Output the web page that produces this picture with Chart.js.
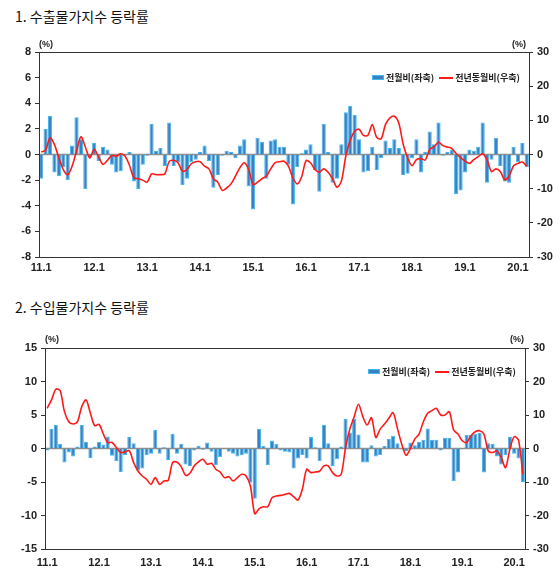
<!DOCTYPE html>
<html>
<head>
<meta charset="utf-8">
<script src="https://cdn.jsdelivr.net/npm/chart.js@4/dist/chart.umd.min.js"></script>
<style>
  body { margin: 0; background: #fff; width: 560px; height: 569px; overflow: hidden; position: relative; font-family: "Noto Sans CJK KR", sans-serif; }
  .title { position: absolute; left: 15px; font-size: 14px; color: #111; white-space: nowrap; }
  .box { position: absolute; left: 0; width: 560px; }
  .pct { position: absolute; font: bold 9px "Liberation Sans", Arial, sans-serif; color: #222; }
  .leg { position: absolute; font: bold 9px "Noto Sans CJK KR", sans-serif; color: #222; white-space: nowrap; display: flex; align-items: center; }
  .leg .bar { display: inline-block; width: 12px; height: 5px; background: #3a80c3; border: 1px solid #40b8ee; box-sizing: border-box; margin-right: 2px; }
  .leg .ln { display: inline-block; width: 14px; height: 2px; background: #ff1a1a; margin: 0 2px 0 5px; }
</style>
</head>
<body>
<div class="title" style="top:6px">1. 수출물가지수 등락률</div>
<div class="box" style="top:0;height:285px"><canvas id="c1"></canvas></div>
<div class="pct" style="left:39px;top:39px">(%)</div>
<div class="pct" style="left:512px;top:39px">(%)</div>
<div class="leg" style="left:372px;top:71px"><span class="bar"></span>전월비(좌축)<span class="ln"></span>전년동월비(우축)</div>

<div class="title" style="top:297px">2. 수입물가지수 등락률</div>
<div class="box" style="top:290px;height:279px"><canvas id="c2"></canvas></div>
<div class="pct" style="left:45px;top:334px">(%)</div>
<div class="pct" style="left:510px;top:334px">(%)</div>
<div class="leg" style="left:368px;top:365px"><span class="bar"></span>전월비(좌축)<span class="ln"></span>전년동월비(우축)</div>

<script>
// months 2011.1 ~ 2020.3
const months = [];
for (let y = 11; y <= 20; y++) {
  for (let m = 1; m <= 12; m++) {
    if (y === 20 && m > 3) break;
    months.push(y + '.' + m);
  }
}

// 1. 수출물가 (전월비 %, 좌축)
const exportMoM = [
  -1.9, 2.0, 3.0, -1.4, -1.7, -1.0, -2.0, 0.7, 2.9, 1.2, -2.7, -0.2,
  0.9, -0.5, 0.6, 0.4, -0.8, -1.4, -1.3, -0.1, 0.2, -2.1, -2.7, -0.8,
  -0.1, 2.4, 0.3, 0.5, -0.9, 2.5, -0.9, -0.6, -2.4, -1.9, -0.6, -0.4,
  0.2, 0.7, -0.5, -2.6, -1.6, -0.1, 0.3, 0.2, -0.3, 0.7, 1.2, -2.5,
  -4.3, 1.3, 1.0, -1.9, 1.1, 1.2, 0.6, 0.6, -0.8, -3.9, -1.0, 0.1,
  0.4, 0.8, -1.2, -2.9, 2.4, 0.2, -2.2, -1.9, 0.8, 3.3, 3.8, 3.1,
  1.2, -1.4, -1.3, 0.6, -1.2, -0.3, 1.1, 0.5, 1.2, 0.5, -1.6, -1.5,
  -0.3, 1.2, -1.4, 0.2, 1.8, 0.8, 2.5, -0.1, 0.2, 0.4, -3.1, -2.8,
  -1.4, 0.4, 0.3, 0.6, 2.5, -2.2, -0.4, 1.3, -0.9, -2.1, -2.2, 0.6,
  -0.6, 0.9, -1.0
];
// 1. 수출물가 (전년동월비 %, 우축)
const exportYoY = [
  0.7, 1.3, 4.9, 2.9, -1.0, -4.4, -5.9, -3.4, 1.0, 5.2, 2.2, -1.0,
  1.5, -0.7, -2.9, -1.7, -0.3, -0.5, 0.2, -0.5, -3.2, -6.8, -7.1, -7.5,
  -8.1, -5.7, -5.9, -5.9, -5.7, -2.0, -1.7, -2.4, -4.9, -4.4, -2.7, -2.1,
  -2.1, -3.4, -4.2, -7.1, -8.1, -10.5, -9.8, -8.6, -6.3, -3.9, -2.4, -4.4,
  -8.8, -8.1, -7.1, -6.3, -4.2, -2.4, -2.1, -2.0, -3.4, -6.8, -8.6, -6.5,
  -1.8, -2.4, -4.4, -5.2, -4.2, -5.2, -7.1, -9.6, -7.8, -0.5, 4.2, 6.8,
  7.4, 5.6, 5.6, 8.8, 5.0, 4.6, 8.8, 10.7, 11.2, 9.2, 3.0, -1.0,
  -3.3, -1.5, -1.2, -1.6, 1.5, 2.3, 3.6, 2.6, 2.2, 1.8, 0.3, -0.9,
  -1.9, -2.6, -1.5, -0.6, 0.2, -1.6, -5.0, -4.2, -5.0, -7.4, -6.3, -3.3,
  -2.6, -2.2, -3.4
];

// 2. 수입물가 (전월비 %, 좌축)
const importMoM = [
  -0.3, 2.9, 3.5, 0.7, -2.1, -0.6, -1.2, 0.3, 3.5, 1.0, -1.4, 0.3,
  1.0, 0.6, 1.8, -1.1, -1.9, -3.5, -1.0, 1.7, 0.8, -3.3, -3.0, -1.0,
  -0.8, 2.8, -0.8, 0.2, -1.7, 2.2, -0.8, 0.7, -2.4, -2.6, -0.3, 0.4,
  -0.2, 0.9, -0.5, -2.5, -1.3, 0.0, -0.5, -0.8, -1.2, -1.0, -0.8, -5.1,
  -7.5, 2.9, 0.4, -2.5, 1.2, 0.7, -0.3, -0.5, -0.6, -3.0, -1.5, -1.0,
  -1.5, 1.7, 0.2, -1.9, 3.5, 0.8, -2.6, -1.6, 0.3, 4.4, 2.4, 4.4,
  2.1, -2.1, -2.1, 0.5, -1.2, -1.0, 0.4, 1.4, 1.9, 0.8, -0.1, -0.4,
  0.9, 0.5, 1.0, 1.3, 3.0, 1.3, 1.3, -0.3, 1.6, 1.6, -4.9, -3.6,
  -0.1, 2.0, 2.0, 2.2, 2.3, -3.6, 0.8, 0.7, -1.2, -2.4, -1.0, 1.7,
  -0.8, -1.5, -5.0
];
// 2. 수입물가 (전년동월비 %, 우축)
const importYoY = [
  12.0, 14.5, 17.7, 17.3, 11.0, 8.0, 7.3, 8.0, 12.5, 14.5, 10.5, 6.8,
  7.2, 4.3, 1.8, 1.8, 0.3, -1.2, -1.0, -0.7, -4.2, -6.7, -8.2, -9.2,
  -10.7, -8.7, -10.7, -9.7, -9.5, -4.2, -4.0, -5.4, -8.0, -7.4, -5.2, -4.0,
  -3.2, -4.7, -4.4, -6.2, -7.0, -8.7, -8.4, -9.7, -8.7, -7.7, -8.2, -11.2,
  -19.5, -18.0, -17.4, -17.4, -14.7, -14.2, -14.0, -13.7, -13.4, -14.4, -15.4, -12.2,
  -6.2, -7.2, -7.0, -6.8, -5.2, -5.2, -7.2, -8.2, -7.7, 0.3, 5.8, 9.5,
  13.2, 9.5, 7.0, 9.2, 3.3, 5.8, 7.3, 9.0, 10.7, 6.0, 1.3, -2.0,
  0.0, 2.8, 4.3, 8.0, 10.5, 11.3, 12.0, 10.0, 10.0, 11.0, 5.5, 4.3,
  2.3, 1.8, 3.8, 5.0, 5.3, 4.3, -0.7, -1.2, -0.7, -2.7, -5.7, -0.2,
  3.5, 2.5, -7.7
];

const leftTicks1 = { min: -8, max: 8, step: 2 };
const leftTicks2 = { min: -15, max: 15, step: 5 };
const rightTicks = { min: -30, max: 30, step: 10 };

const tickFont = { family: '"Liberation Sans", Arial, sans-serif', size: 11, weight: 'bold' };

const frame = {
  id: 'frame',
  beforeDatasetsDraw(chart) {
    const { ctx, chartArea: a, scales } = chart;
    const y0 = scales.y.getPixelForValue(0);
    ctx.save();
    ctx.strokeStyle = '#8e8e8e';
    ctx.lineWidth = 1.5;
    ctx.beginPath();
    ctx.moveTo(a.left, y0);
    ctx.lineTo(a.right, y0);
    ctx.stroke();
    ctx.restore();
  },
  afterDraw(chart) {
    const { ctx, chartArea: a } = chart;
    ctx.save();
    ctx.strokeStyle = '#333';
    ctx.lineWidth = 1;
    ctx.strokeRect(Math.round(a.left) + 0.5, Math.round(a.top) + 0.5,
                   Math.round(a.right - a.left), Math.round(a.bottom - a.top));
    ctx.restore();
  }
};

function makeChart(id, mom, yoy, lt, geo) {
  new Chart(document.getElementById(id), {
    type: 'bar',
    data: {
      labels: months,
      datasets: [
        {
          type: 'line', data: yoy, yAxisID: 'y1', order: 0,
          borderColor: '#ff1a1a', borderWidth: 1.6, pointRadius: 0, tension: 0.3, fill: false
        },
        {
          type: 'bar', data: mom, yAxisID: 'y', order: 1,
          backgroundColor: '#3a80c3', borderColor: '#40b8ee', borderWidth: 1,
          categoryPercentage: 1.0, barPercentage: 0.95
        }
      ]
    },
    options: {
      responsive: true,
      maintainAspectRatio: false,
      animation: false,
      layout: { padding: { top: geo.top, left: 0, right: 0, bottom: 0 } },
      plugins: { legend: { display: false }, tooltip: { enabled: false } },
      scales: {
        x: {
          offset: true,
          grid: { display: false, drawTicks: false },
          border: { display: false },
          ticks: {
            autoSkip: false, maxRotation: 0, padding: geo.xpad,
            color: '#222', font: tickFont,
            callback: function (v, i) { return months[i].split('.')[1] === '1' ? months[i] : ''; }
          },
          afterFit(s) { s.height = geo.xh; }
        },
        y: {
          position: 'left', min: lt.min, max: lt.max,
          grid: { drawOnChartArea: false, tickLength: 4, color: '#333' },
          border: { display: false },
          ticks: { stepSize: lt.step, color: '#222', font: tickFont, padding: 4 },
          afterFit(s) { s.width = geo.left; }
        },
        y1: {
          position: 'right', min: rightTicks.min, max: rightTicks.max,
          grid: { drawOnChartArea: false, tickLength: 4, color: '#333' },
          border: { display: false },
          ticks: { stepSize: rightTicks.step, color: '#222', font: tickFont, padding: 4 },
          afterFit(s) { s.width = geo.right; }
        }
      }
    },
    plugins: [frame]
  });
}

makeChart('c1', exportMoM, exportYoY, leftTicks1, { top: 52, left: 39, right: 31, xh: 28, xpad: 4 });
makeChart('c2', importMoM, importYoY, leftTicks2, { top: 58, left: 45, right: 35, xh: 20, xpad: 7 });
</script>
</body>
</html>
